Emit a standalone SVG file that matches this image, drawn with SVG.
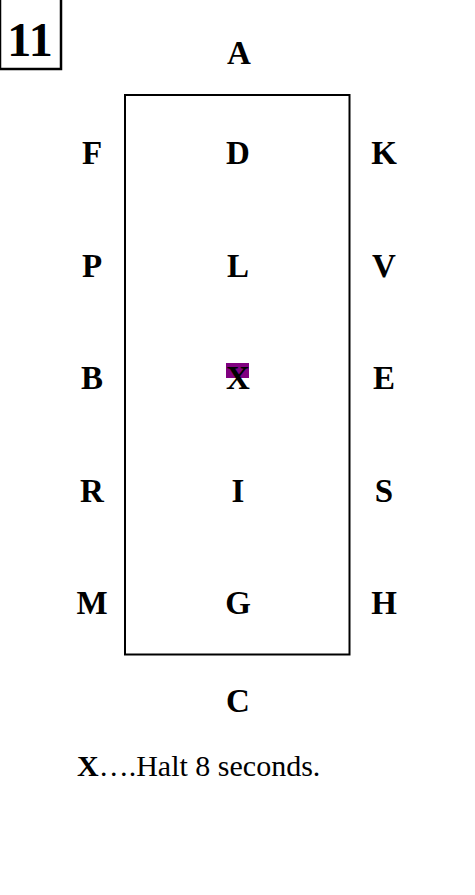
<svg xmlns="http://www.w3.org/2000/svg" width="475" height="895" viewBox="0 0 475 895">
<style>
.l{font-family:"Liberation Serif","Times New Roman",serif;font-weight:bold;font-size:33px;text-anchor:middle;fill:#000}
.f{font-family:"Liberation Serif","Times New Roman",serif;font-size:30px;fill:#000}
</style>
<rect width="475" height="895" fill="#fff"/>
<g id="badge">
<rect x="0" y="-2" width="61" height="71" fill="#fff" stroke="#000" stroke-width="2.5"/>
<text x="30" y="56" style="font-family:'Liberation Serif','Times New Roman',serif;font-weight:bold;font-size:48px;text-anchor:middle">11</text>
</g>
<g id="arena">
<rect x="125" y="95" width="224.5" height="559.5" fill="none" stroke="#000" stroke-width="2"/>
</g>
<g id="marker-x">
<rect x="226" y="363" width="23" height="15" fill="#800080"/>
</g>
<g id="letters">
<text class="l" x="239" y="64">A</text>
<text class="l" x="92" y="164">F</text>
<text class="l" x="238" y="164">D</text>
<text class="l" x="384" y="164">K</text>
<text class="l" x="92" y="277">P</text>
<text class="l" x="238" y="277">L</text>
<text class="l" x="384" y="277">V</text>
<text class="l" x="92" y="389">B</text>
<text class="l" x="238" y="389">X</text>
<text class="l" x="384" y="389">E</text>
<text class="l" x="92" y="502">R</text>
<text class="l" x="238" y="502">I</text>
<text class="l" x="384" y="502">S</text>
<text class="l" x="92" y="614">M</text>
<text class="l" x="238" y="614">G</text>
<text class="l" x="384" y="614">H</text>
<text class="l" x="238" y="712">C</text>
</g>
<g id="note">
<text class="f" x="77" y="776"><tspan font-weight="bold">X</tspan>….Halt 8 seconds.</text>
</g>
<g id="connectors"></g>
</svg>
